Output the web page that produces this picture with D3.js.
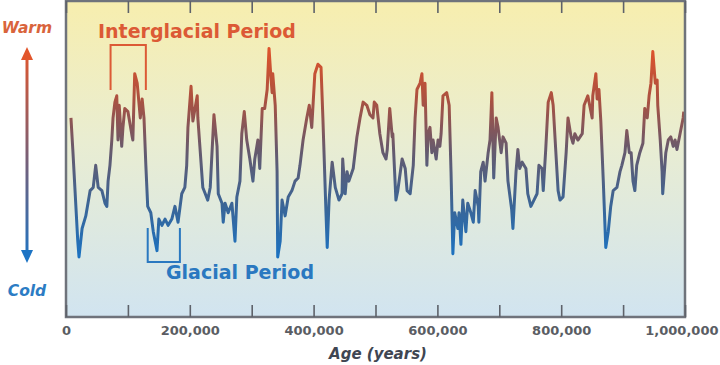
<!DOCTYPE html>
<html>
<head>
<meta charset="utf-8">
<script src="https://cdn.jsdelivr.net/npm/d3@7"></script>
<style>
  html, body { margin: 0; padding: 0; background: #fff; }
  svg { display: block; font-family: "DejaVu Sans", Verdana, sans-serif; }
</style>
</head>
<body>
<div id="chart"></div>
<script>
// age in thousands of years before present
var ageKyr = [8, 11, 19, 21, 26, 32, 39, 44, 48, 52, 58, 63, 66, 68, 71, 74, 76, 79, 82, 84,
  86, 90, 92, 95, 100, 107, 108, 111, 115, 120, 123, 126, 129, 132, 137, 141, 144, 147, 150, 155,
  160, 165, 171, 176, 181, 187, 192, 195, 197, 202, 205, 212, 213, 221, 225, 229, 233, 239, 244, 246,
  252, 254, 257, 262, 268, 273, 276, 281, 284, 288, 292, 297, 302, 305, 310, 313, 317, 321, 325, 328,
  331, 333, 334, 338, 341, 342, 346, 349, 354, 359, 365, 370, 375, 378, 383, 389, 393, 397, 402, 407,
  412, 415, 420, 422, 425, 430, 435, 441, 446, 447, 451, 454, 457, 464, 470, 475, 480, 486, 491, 496,
  498, 502, 507, 512, 517, 519, 523, 527, 528, 533, 536, 543, 548, 551, 556, 561, 564, 567, 572, 575,
  577, 580, 583, 585, 588, 591, 593, 598, 601, 604, 606, 609, 615, 619, 622, 625, 628, 633, 635, 638,
  641, 646, 649, 654, 658, 661, 666, 667, 670, 674, 677, 682, 685, 688, 691, 695, 698, 703, 706, 711,
  714, 720, 722, 727, 730, 733, 737, 743, 746, 751, 756, 761, 764, 769, 771, 775, 779, 784, 787, 792,
  795, 798, 803, 808, 811, 816, 819, 822, 827, 834, 837, 843, 850, 851, 856, 858, 861, 864, 868, 872,
  876, 880, 884, 890, 895, 898, 903, 906, 910, 913, 916, 919, 922, 927, 932, 935, 939, 942, 945, 948,
  952, 955, 956, 960, 963, 964, 969, 973, 977, 981, 984, 987, 992, 997, 998];

// relative warmth (0 = cold, 100 = warm)
var warmth = [63, 53, 24, 19, 28, 32, 40, 41, 48, 41, 40, 36, 35, 43, 48, 56, 63, 68, 70, 56,
  67, 54, 60, 66, 65, 57, 56, 77, 74, 63, 69, 63, 48, 35, 33, 27, 24, 21, 31, 29,
  31, 29, 31, 35, 30, 39, 41, 48, 60, 73, 62, 70, 63, 41, 39, 37, 41, 64, 54, 39,
  36, 30, 36, 33, 36, 24, 38, 43, 58, 65, 56, 50, 43, 50, 56, 47, 66, 66, 72, 85,
  76, 71, 77, 67, 46, 19, 24, 37, 32, 38, 40, 43, 44, 48, 56, 63, 67, 60, 77, 80,
  79, 63, 33, 22, 37, 49, 41, 37, 39, 50, 39, 46, 43, 47, 57, 63, 68, 67, 64, 63,
  68, 67, 58, 52, 50, 53, 66, 57, 58, 37, 40, 50, 47, 40, 39, 48, 63, 72, 74, 77,
  67, 74, 48, 58, 60, 52, 56, 50, 56, 54, 58, 70, 71, 67, 46, 20, 33, 28, 33, 23,
  37, 27, 36, 33, 30, 40, 35, 30, 46, 49, 43, 52, 56, 71, 44, 63, 60, 52, 57, 55,
  43, 34, 28, 46, 53, 47, 49, 47, 39, 35, 37, 39, 48, 47, 40, 53, 68, 71, 67, 50,
  40, 37, 38, 52, 63, 57, 55, 58, 56, 58, 67, 70, 63, 70, 77, 69, 72, 62, 43, 22,
  27, 35, 40, 41, 46, 48, 52, 59, 52, 52, 43, 40, 48, 52, 55, 66, 63, 70, 74, 84,
  74, 75, 67, 56, 46, 39, 52, 56, 57, 54, 56, 53, 58, 63, 65];

var xTicks = [0, 100000, 200000, 300000, 400000, 500000, 600000, 700000, 800000, 900000, 1000000];
var xLabelTicks = [0, 200000, 400000, 600000, 800000, 1000000];

var width = 720, height = 365;
var plotLeft = 66, plotRight = 685, plotTop = 1, plotBottom = 317;

var svg = d3.select("#chart").append("svg")
  .attr("width", width)
  .attr("height", height);

var defs = svg.append("defs");

var bg = defs.append("linearGradient")
  .attr("id", "bg")
  .attr("x1", 0).attr("y1", 0).attr("x2", 0).attr("y2", 1);
bg.append("stop").attr("offset", "0%").attr("stop-color", "#f7eeae");
bg.append("stop").attr("offset", "45%").attr("stop-color", "#e9edd2");
bg.append("stop").attr("offset", "100%").attr("stop-color", "#d1e4f0");

var lineGrad = defs.append("linearGradient")
  .attr("id", "lineGrad")
  .attr("gradientUnits", "userSpaceOnUse")
  .attr("x1", 0).attr("y1", 45).attr("x2", 0).attr("y2", 258);
lineGrad.append("stop").attr("offset", "0%").attr("stop-color", "#e2532a");
lineGrad.append("stop").attr("offset", "25%").attr("stop-color", "#ac5140");
lineGrad.append("stop").attr("offset", "50%").attr("stop-color", "#655a6e");
lineGrad.append("stop").attr("offset", "75%").attr("stop-color", "#3b6596");
lineGrad.append("stop").attr("offset", "100%").attr("stop-color", "#1a72c2");

var arrowGrad = defs.append("linearGradient")
  .attr("id", "arrowGrad")
  .attr("gradientUnits", "userSpaceOnUse")
  .attr("x1", 0).attr("y1", 48).attr("x2", 0).attr("y2", 262);
arrowGrad.append("stop").attr("offset", "0%").attr("stop-color", "#e2562c");
arrowGrad.append("stop").attr("offset", "50%").attr("stop-color", "#7c5f74");
arrowGrad.append("stop").attr("offset", "100%").attr("stop-color", "#1d74c4");

var x = d3.scaleLinear().domain([0, 1000000]).range([plotLeft, plotRight]);
var y = d3.scaleLinear().domain([0, 100]).range([plotBottom, plotTop]);

// plot background
svg.append("rect")
  .attr("x", plotLeft).attr("y", plotTop)
  .attr("width", plotRight - plotLeft).attr("height", plotBottom - plotTop)
  .attr("fill", "url(#bg)");

var points = ageKyr.map(function(a, i) {
  return { age: a * 1000, v: warmth[i] };
});

var line = d3.line()
  .x(function(d) { return x(d.age); })
  .y(function(d) { return y(d.v); });

svg.append("path")
  .datum(points)
  .attr("d", line)
  .attr("fill", "none")
  .attr("stroke", "url(#lineGrad)")
  .attr("stroke-width", 3)
  .attr("stroke-linejoin", "round");

// frame
svg.append("rect")
  .attr("x", plotLeft).attr("y", plotTop)
  .attr("width", plotRight - plotLeft).attr("height", plotBottom - plotTop)
  .attr("fill", "none")
  .attr("stroke", "#6f737b")
  .attr("stroke-width", 2.5);

// bottom axis, ticks pointing up
var bottomAxis = svg.append("g")
  .attr("transform", "translate(0," + plotBottom + ")")
  .call(d3.axisBottom(x).tickValues(xTicks).tickSizeInner(-12).tickSizeOuter(0)
    .tickPadding(9)
    .tickFormat(function(d) { return xLabelTicks.indexOf(d) >= 0 ? d3.format(",")(d) : ""; }));
bottomAxis.select(".domain").remove();
bottomAxis.selectAll(".tick line").attr("stroke", "#5e626a").attr("stroke-width", 1.6);
bottomAxis.selectAll(".tick text")
  .attr("fill", "#5a5d63")
  .style("font-size", "13px")
  .style("font-weight", "bold")
  .style("font-family", "'DejaVu Sans', Verdana, sans-serif");
// keep the last label inside the window
bottomAxis.selectAll(".tick text")
  .filter(function(d) { return d === 1000000; })
  .attr("text-anchor", "end")
  .attr("dx", 33);

// top axis, ticks pointing down
var topAxis = svg.append("g")
  .attr("transform", "translate(0," + plotTop + ")")
  .call(d3.axisTop(x).tickValues(xTicks).tickSizeInner(-12).tickSizeOuter(0).tickFormat(""));
topAxis.select(".domain").remove();
topAxis.selectAll(".tick line").attr("stroke", "#5e626a").attr("stroke-width", 1.6);

svg.append("text")
  .attr("x", 378).attr("y", 359)
  .attr("text-anchor", "middle")
  .attr("fill", "#3f4652")
  .style("font-size", "15px")
  .style("font-weight", "bold")
  .style("font-style", "italic")
  .text("Age (years)");

// warm / cold arrow
var ax = 27;
svg.append("line")
  .attr("x1", ax).attr("x2", ax)
  .attr("y1", 56).attr("y2", 254)
  .attr("stroke", "url(#arrowGrad)")
  .attr("stroke-width", 3);
svg.append("path")
  .attr("d", "M" + ax + ",47 L" + (ax - 6) + ",60 L" + (ax + 6) + ",60 Z")
  .attr("fill", "#e2562c");
svg.append("path")
  .attr("d", "M" + ax + ",263 L" + (ax - 6) + ",250 L" + (ax + 6) + ",250 Z")
  .attr("fill", "#1d74c4");

svg.append("text")
  .attr("x", 27).attr("y", 33)
  .attr("text-anchor", "middle")
  .attr("fill", "#d9643c")
  .style("font-size", "15.5px")
  .style("font-weight", "bold")
  .style("font-style", "italic")
  .text("Warm");

svg.append("text")
  .attr("x", 27).attr("y", 296)
  .attr("text-anchor", "middle")
  .attr("fill", "#2c7cc4")
  .style("font-size", "15.5px")
  .style("font-weight", "bold")
  .style("font-style", "italic")
  .text("Cold");

// period annotations
svg.append("path")
  .attr("d", "M" + x(72000) + ",90 V45 H" + x(129000) + " V90")
  .attr("fill", "none")
  .attr("stroke", "#dc5a35")
  .attr("stroke-width", 2);
svg.append("text")
  .attr("x", 98).attr("y", 38)
  .attr("fill", "#dc5a35")
  .style("font-size", "19px")
  .style("font-weight", "bold")
  .text("Interglacial Period");

svg.append("path")
  .attr("d", "M" + x(132000) + ",228 V262 H" + x(184000) + " V228")
  .attr("fill", "none")
  .attr("stroke", "#2a78c0")
  .attr("stroke-width", 2);
svg.append("text")
  .attr("x", 166).attr("y", 279)
  .attr("fill", "#2a78c0")
  .style("font-size", "19px")
  .style("font-weight", "bold")
  .text("Glacial Period");
</script>
</body>
</html>
